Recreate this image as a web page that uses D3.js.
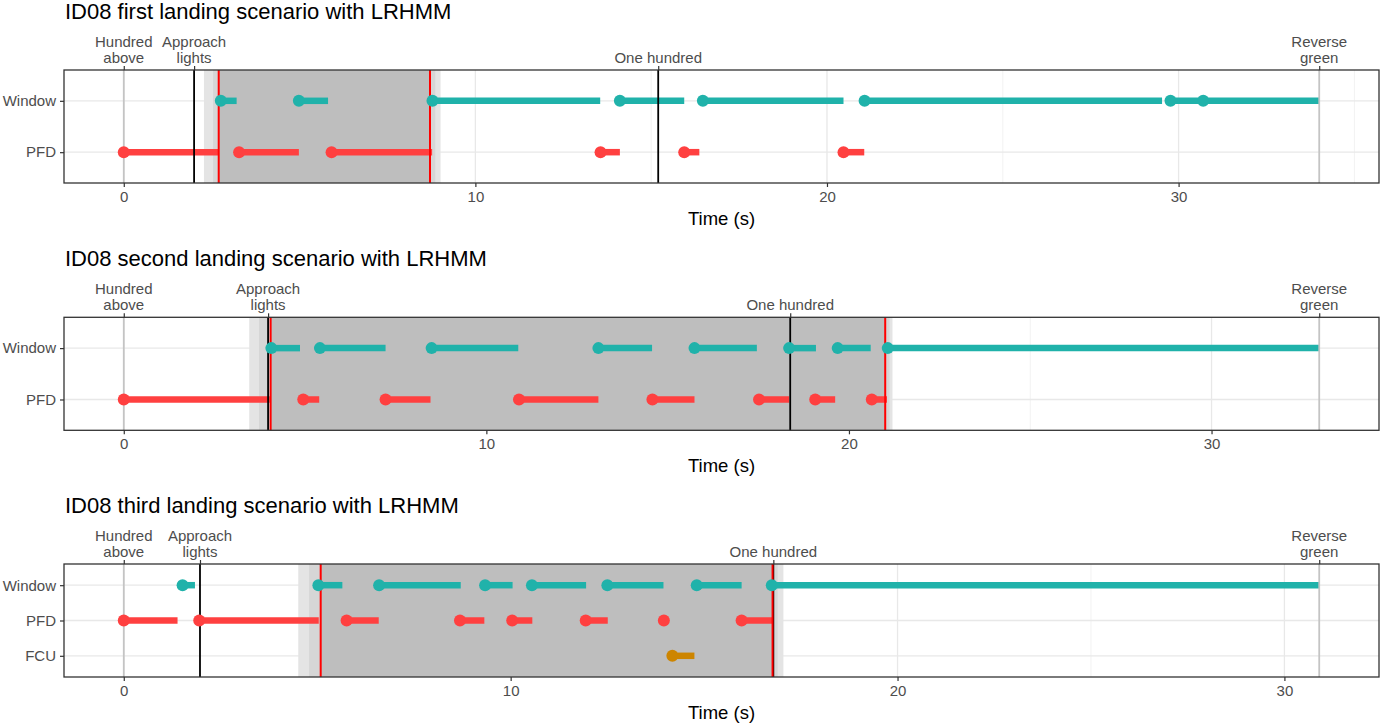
<!DOCTYPE html>
<html>
<head>
<meta charset="utf-8">
<script src="https://cdn.jsdelivr.net/npm/d3@7"></script>
<style>
  html, body { margin: 0; padding: 0; background: #fff; }
  svg { display: block; font-family: "Liberation Sans", Arial, sans-serif; }
</style>
</head>
<body>
<svg id="chart" width="1381" height="724"></svg>
<script>
// ---------------- DATA ----------------
const titles = [
  "ID08 first landing scenario with LRHMM",
  "ID08 second landing scenario with LRHMM",
  "ID08 third landing scenario with LRHMM"
];
const xTicks = [0, 10, 20, 30];
const xMinorTicks = [5, 15, 25, 35];
const eventLabels = [["Hundred", "above"], ["Approach", "lights"], ["One hundred"], ["Reverse", "green"]];
const eventKinds = ["grey", "black", "black", "grey"];

// event times (s): Hundred above, Approach lights, One hundred, Reverse green
const p1Events = [0, 2.0, 15.2, 34.0];
const p2Events = [0, 3.98, 18.38, 32.97];
const p3Events = [0, 1.97, 16.79, 30.9];

// categories
const p1Rows = ["Window", "PFD"];
const p2Rows = ["Window", "PFD"];
const p3Rows = ["Window", "PFD", "FCU"];

// glances [start, end] (s)
const p1Window = [[2.76, 3.21], [4.98, 5.81], [8.78, 13.55], [14.11, 15.94], [16.47, 20.47], [21.07, 29.53], [29.77, 30.7], [30.7, 34.0]];
const p1Pfd = [[0, 2.68], [3.28, 4.98], [5.91, 8.77], [13.56, 14.11], [15.94, 16.37], [20.47, 21.06]];
const p1Fcu = [];

const p2Window = [[4.07, 4.86], [5.41, 7.22], [8.49, 10.88], [13.09, 14.57], [15.74, 17.46], [18.35, 19.09], [19.69, 20.6], [21.07, 32.97]];
const p2Pfd = [[0, 4.03], [4.95, 5.39], [7.22, 8.46], [10.9, 13.09], [14.58, 15.74], [17.52, 18.35], [19.07, 19.62], [20.63, 21.05]];
const p2Fcu = [];

const p3Window = [[1.52, 1.84], [5.03, 5.65], [6.6, 8.71], [9.34, 10.05], [10.55, 11.95], [12.5, 13.95], [14.81, 15.97], [16.75, 30.9]];
const p3Pfd = [[0, 1.39], [1.95, 5.04], [5.76, 6.59], [8.69, 9.32], [10.04, 10.56], [11.94, 12.51], [13.96, 13.96], [15.97, 16.77]];
const p3Fcu = [[14.18, 14.75]];

// shaded interval: outer light band, middle band, inner dark band (red lines at inner edges)
const p1Shade = [[2.28, 9.01], [2.54, 8.86], [2.70, 8.71]];
const p2Shade = [[3.46, 21.2], [3.73, 21.12], [4.05, 21.0]];
const p3Shade = [[4.51, 17.05], [4.79, 16.9], [5.09, 16.77]];

// ---------------- STYLE ----------------
const colors = { Window: "#20B2AA", PFD: "#FF4040", FCU: "#CD8500" };
const shadeColors = ["#e4e4e4", "#d6d6d6", "#bebebe"];
const plotLeft = 64, plotRight = 1379, plotH = 113;

const panels = [
  { title: titles[0], top: 70, rows: p1Rows, events: p1Events, shade: p1Shade, series: { Window: p1Window, PFD: p1Pfd, FCU: p1Fcu } },
  { title: titles[1], top: 317.3, rows: p2Rows, events: p2Events, shade: p2Shade, series: { Window: p2Window, PFD: p2Pfd, FCU: p2Fcu } },
  { title: titles[2], top: 564, rows: p3Rows, events: p3Events, shade: p3Shade, series: { Window: p3Window, PFD: p3Pfd, FCU: p3Fcu } }
];

const svg = d3.select("#chart");

panels.forEach(p => {
  const maxT = d3.max(p.events);
  const pad = maxT * 0.05;
  const x = d3.scaleLinear().domain([-pad, maxT + pad]).range([plotLeft, plotRight]);
  const y = d3.scalePoint().domain(p.rows).range([p.top, p.top + plotH]).padding(0.6);
  const bottom = p.top + plotH;
  const g = svg.append("g");

  // title
  g.append("text").attr("x", 65).attr("y", p.top - 51)
    .attr("font-size", 22).attr("fill", "#000").text(p.title);

  // grid
  const clip = g.append("g");
  clip.selectAll("line.minor").data(xMinorTicks.filter(t => x(t) < plotRight)).join("line")
    .attr("x1", d => x(d)).attr("x2", d => x(d)).attr("y1", p.top).attr("y2", bottom)
    .attr("stroke", "#f0f0f0").attr("stroke-width", 0.9);
  clip.selectAll("line.major").data(xTicks).join("line")
    .attr("x1", d => x(d)).attr("x2", d => x(d)).attr("y1", p.top).attr("y2", bottom)
    .attr("stroke", "#e8e8e8").attr("stroke-width", 1.3);
  clip.selectAll("line.hgrid").data(p.rows).join("line")
    .attr("x1", plotLeft).attr("x2", plotRight).attr("y1", d => y(d)).attr("y2", d => y(d))
    .attr("stroke", "#e8e8e8").attr("stroke-width", 1.3);

  // shaded bands
  g.selectAll("rect.shade").data(p.shade).join("rect")
    .attr("x", d => x(d[0])).attr("width", d => x(d[1]) - x(d[0]))
    .attr("y", p.top).attr("height", plotH)
    .attr("fill", (d, i) => shadeColors[i]);

  // glance segments
  p.rows.forEach(r => {
    const data = p.series[r];
    g.selectAll(null).data(data).join("line")
      .attr("x1", d => x(d[0])).attr("x2", d => x(d[1]))
      .attr("y1", y(r)).attr("y2", y(r))
      .attr("stroke", colors[r]).attr("stroke-width", 6.5);
  });

  // event lines
  g.selectAll("line.ev").data(p.events).join("line")
    .attr("x1", d => x(d)).attr("x2", d => x(d)).attr("y1", p.top).attr("y2", bottom)
    .attr("stroke", (d, i) => eventKinds[i] === "black" ? "#000" : "#c4c4c4")
    .attr("stroke-width", (d, i) => eventKinds[i] === "black" ? 1.8 : 1.8);

  // red lines at dark band edges
  g.selectAll("line.red").data(p.shade[2]).join("line")
    .attr("x1", d => x(d)).attr("x2", d => x(d)).attr("y1", p.top).attr("y2", bottom)
    .attr("stroke", "#ff0000").attr("stroke-width", 2);

  // start dots
  p.rows.forEach(r => {
    const data = p.series[r];
    g.selectAll(null).data(data).join("circle")
      .attr("cx", d => x(d[0])).attr("cy", y(r)).attr("r", 6)
      .attr("fill", colors[r]);
  });

  // panel border
  g.append("rect").attr("x", plotLeft).attr("y", p.top)
    .attr("width", plotRight - plotLeft).attr("height", plotH)
    .attr("fill", "none").attr("stroke", "#333").attr("stroke-width", 1.3);

  // bottom axis
  const xAxis = d3.axisBottom(x).tickValues(xTicks).tickSize(4).tickPadding(4).tickFormat(d3.format("d"));
  const ax = g.append("g").attr("transform", `translate(0,${bottom})`).call(xAxis);
  ax.select(".domain").remove();
  ax.selectAll(".tick line").attr("stroke", "#333").attr("stroke-width", 1.2);
  ax.selectAll(".tick text").attr("font-size", 15).attr("fill", "#4d4d4d")
    .attr("font-family", "Liberation Sans, Arial, sans-serif");

  // top axis (events)
  const topAxis = d3.axisTop(x).tickValues(p.events).tickSize(4).tickFormat("");
  const at = g.append("g").attr("transform", `translate(0,${p.top})`).call(topAxis);
  at.select(".domain").remove();
  at.selectAll(".tick line").attr("stroke", "#333").attr("stroke-width", 1.2);
  p.events.forEach((e, i) => {
    const lines = eventLabels[i];
    const t = g.append("text").attr("text-anchor", "middle").attr("font-size", 15).attr("fill", "#4d4d4d");
    lines.forEach((ln, j) => {
      const baseY = p.top - 7.5 - (lines.length - 1 - j) * 16;
      t.append("tspan").attr("x", x(e)).attr("y", baseY).text(ln);
    });
  });

  // y axis
  const yAxis = d3.axisLeft(y).tickSize(4).tickPadding(4);
  const ay = g.append("g").attr("transform", `translate(${plotLeft},0)`).call(yAxis);
  ay.select(".domain").remove();
  ay.selectAll(".tick line").attr("stroke", "#333").attr("stroke-width", 1.2);
  ay.selectAll(".tick text").attr("font-size", 15).attr("fill", "#4d4d4d")
    .attr("font-family", "Liberation Sans, Arial, sans-serif");

  // x axis title
  g.append("text").attr("x", (plotLeft + plotRight) / 2).attr("y", bottom + 42)
    .attr("text-anchor", "middle").attr("font-size", 18.5).attr("fill", "#000").text("Time (s)");
});
</script>
</body>
</html>
